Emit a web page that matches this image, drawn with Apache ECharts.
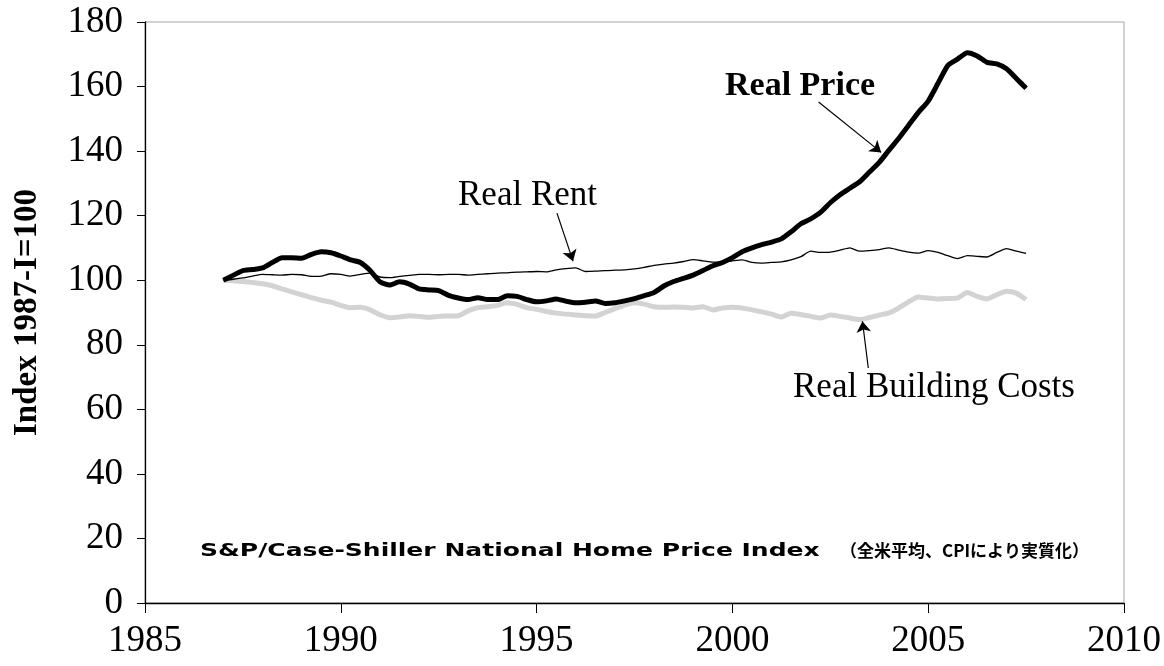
<!DOCTYPE html>
<html>
<head>
<meta charset="utf-8">
<script src="https://cdn.jsdelivr.net/npm/echarts@6/dist/echarts.min.js"></script>
<style>
  html, body { margin: 0; padding: 0; background: #fff; }
  #chart { width: 1164px; height: 666px; }
</style>
</head>
<body>
<div id="chart"></div>
<script>
// quarterly observations, 1987-I .. 2007-III
const startYear = 1987;
const realPrice = [
  100, 101.5, 103, 103.3, 103.8, 105.5, 107, 107, 106.8, 108, 108.8, 108.5,
  107.5, 106.3, 105.5, 103, 99.5, 98.5, 99.5, 98.8, 97.3, 97, 96.8, 95.3,
  94.5, 94, 94.6, 94, 94, 95.2, 95, 94, 93.3, 93.6, 94.2, 93.5,
  93, 93.2, 93.6, 92.8, 93, 93.6, 94.3, 95.2, 96.2, 98.2, 99.6, 100.6,
  101.6, 103, 104.5, 105.5, 107, 108.8, 110, 111, 111.8, 112.8, 115, 117.5,
  119, 121, 124, 126.5, 128.5, 130.5, 133.5, 136.5, 140.3, 144, 148, 152,
  155.5, 161, 166.5, 168.5, 170.5, 169.5, 167.5, 167, 165.5, 162.5, 159.5
];
const realRent = [
  100, 100.3, 100.7, 101.3, 101.8, 101.7, 101.6, 101.8, 101.7, 101.2, 101.3, 102,
  101.8, 101.3, 101.8, 102.2, 101, 100.8, 101.2, 101.5, 101.8, 101.8, 101.7, 101.8,
  101.8, 101.6, 101.8, 102, 102.2, 102.3, 102.5, 102.6, 102.7, 102.6, 103.2, 103.6,
  103.8, 102.7, 102.8, 103, 103.1, 103.2, 103.5, 104, 104.6, 105, 105.3, 105.8,
  106.4, 106, 105.6, 105.6, 106, 106.3, 105.5, 105.3, 105.5, 105.7, 106.3, 107.3,
  109, 108.6, 108.7, 109.3, 110, 109, 109.2, 109.5, 110, 109.3, 108.7, 108.4,
  109.2, 108.6, 107.6, 106.7, 107.6, 107.4, 107.2, 108.6, 109.8, 109, 108.3
];
const buildingCosts = [
  100, 99.8, 99.6, 99.3, 98.9, 98.3, 97.3, 96.4, 95.5, 94.6, 93.8, 93.2,
  92.2, 91.5, 91.6, 90.8, 89.3, 88.4, 88.6, 89, 88.8, 88.5, 88.8, 88.9,
  89, 90.5, 91.5, 91.8, 92.2, 93, 92.5, 91.5, 91, 90.3, 89.8, 89.5,
  89.2, 89, 88.9, 90, 91.2, 92.3, 93, 92.6, 91.8, 91.6, 91.7, 91.6,
  91.4, 91.8, 90.8, 91.4, 91.6, 91.4, 90.8, 90.2, 89.5, 88.6, 89.8, 89.4,
  88.8, 88.3, 89.2, 88.8, 88.3, 87.8, 88.4, 89.2, 89.9, 91.4, 93.3, 94.8,
  94.5, 94.2, 94.3, 94.5, 96.2, 95, 94.2, 95.5, 96.6, 96, 94
];
const quarters = realPrice.map((v, i) => startYear + i / 4);
const xTicks = [1985, 1990, 1995, 2000, 2005, 2010];
const yTicks = [0, 20, 40, 60, 80, 100, 120, 140, 160, 180];

const serif = "'Liberation Serif', 'DejaVu Serif', serif";
const pair = arr => quarters.map((q, i) => [q, arr[i]]);

const arrowLine = (from, to) => ({
  silent: true,
  symbol: ['none', 'arrow'],
  symbolSize: 11,
  label: { show: false },
  emphasis: { disabled: true },
  lineStyle: { color: '#000', width: 1.2, type: 'solid' },
  data: [[{ coord: from }, { coord: to }]]
});

let myChart = echarts.init(document.getElementById('chart'));
let option = {
  backgroundColor: '#fff',
  animation: false,
  grid: {
    left: 145, top: 22, right: 38, bottom: 63,
    show: true, borderColor: '#a6a6a6', borderWidth: 1
  },
  xAxis: {
    type: 'value',
    min: xTicks[0], max: xTicks[xTicks.length - 1], interval: 5,
    axisLine: { lineStyle: { color: '#000', width: 1.3 } },
    axisTick: { show: true, length: 10, lineStyle: { color: '#000' } },
    axisLabel: { color: '#000', fontFamily: serif, fontSize: 37, margin: 20,
                 formatter: v => String(v) },
    splitLine: { show: false }
  },
  yAxis: {
    type: 'value',
    min: yTicks[0], max: yTicks[yTicks.length - 1], interval: 20,
    name: 'Index 1987-I=100',
    nameLocation: 'middle',
    nameRotate: 90,
    nameGap: 101,
    nameTextStyle: { color: '#000', fontFamily: serif, fontSize: 33, fontWeight: 'bold' },
    axisLine: { show: true, lineStyle: { color: '#000', width: 1.3 } },
    axisTick: { show: true, length: 8, lineStyle: { color: '#000' } },
    axisLabel: { color: '#000', fontFamily: serif, fontSize: 37, margin: 22 },
    splitLine: { show: false }
  },
  series: [
    {
      name: 'Real Building Costs',
      type: 'line',
      data: pair(buildingCosts),
      showSymbol: false,
      smooth: 0.2,
      lineStyle: { color: '#d3d3d3', width: 5 },
      markLine: arrowLine([2003.47, 72.8], [2003.32, 87.3])
    },
    {
      name: 'Real Rent',
      type: 'line',
      data: pair(realRent),
      showSymbol: false,
      smooth: 0.2,
      lineStyle: { color: '#000', width: 1.3 },
      markLine: arrowLine([1995.52, 120.8], [1995.93, 105.9])
    },
    {
      name: 'Real Price',
      type: 'line',
      data: pair(realPrice),
      showSymbol: false,
      smooth: 0.2,
      lineStyle: { color: '#000', width: 5 },
      markLine: arrowLine([2002.2, 155.2], [2003.8, 139.6])
    }
  ],
  graphic: [
    {
      type: 'text', x: 725, y: 86,
      style: { text: 'Real Price', fill: '#000', font: 'bold 34px ' + serif,
               align: 'left', verticalAlign: 'middle' }
    },
    {
      type: 'text', x: 458, y: 196,
      style: { text: 'Real Rent', fill: '#000', font: '35px ' + serif,
               align: 'left', verticalAlign: 'middle' }
    },
    {
      type: 'text', x: 793, y: 388,
      style: { text: 'Real Building Costs', fill: '#000', font: '35px ' + serif,
               align: 'left', verticalAlign: 'middle' }
    },
    {
      type: 'text', x: 200, y: 551, scaleX: 1.39,
      style: { text: 'S&P/Case-Shiller National Home Price Index', fill: '#000',
               font: "bold 18px 'DejaVu Sans', sans-serif",
               align: 'left', verticalAlign: 'middle' }
    },
    {
      type: 'text', x: 840, y: 551,
      style: { text: '（全米平均、CPIにより実質化）', fill: '#000',
               font: "bold 17px 'Noto Sans CJK JP', sans-serif",
               align: 'left', verticalAlign: 'middle' }
    }
  ]
};
option && myChart.setOption(option, true);
window.addEventListener('resize', function () {
  myChart.resize();
});
</script>
</body>
</html>
